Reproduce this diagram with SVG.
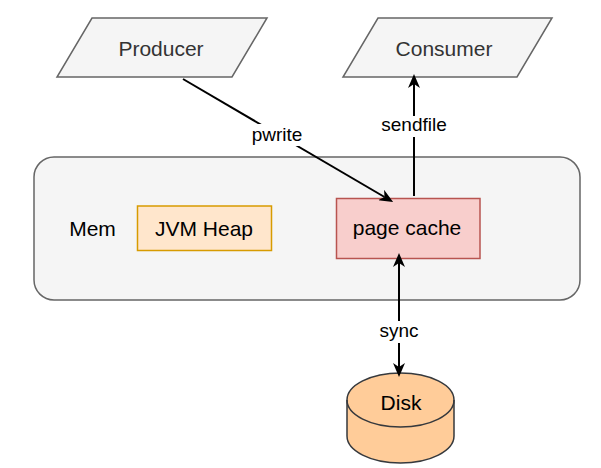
<svg xmlns="http://www.w3.org/2000/svg" width="601" height="468" viewBox="0 0 601 468">
<style>
text{font-family:"Liberation Sans",Arial,sans-serif;text-anchor:middle}
.n{font-size:21px}
.l{font-size:19px;fill:#000}
.io{fill:#f5f5f5;stroke:#666666;stroke-width:1.5}
.edge{fill:none;stroke:#000;stroke-width:2}
.bg{fill:#fff}
</style>
<defs>
<marker id="ah" viewBox="0 0 14 12" refX="4" refY="6" markerWidth="14" markerHeight="12" markerUnits="userSpaceOnUse" orient="auto-start-reverse">
<path d="M0,0 L14,6 L0,12 L4,6 Z" fill="#000"/>
</marker>
</defs>
<g id="mem">
<rect x="34" y="157" width="546" height="143" rx="20" ry="20" fill="#f5f5f5" stroke="#666666" stroke-width="1.5"/>
<text class="n" x="92.5" y="236" fill="#000">Mem</text>
</g>
<g id="producer">
<polygon class="io" points="92,18 267,18 232,77 57,77"/>
<text class="n" x="161" y="56" fill="#333333">Producer</text>
</g>
<g id="consumer">
<polygon class="io" points="378,18 552,18 517,77 343,77"/>
<text class="n" x="444" y="56" fill="#333333">Consumer</text>
</g>
<g id="jvmheap">
<rect x="137.5" y="206" width="134" height="44.5" fill="#ffe6cc" stroke="#d79b00" stroke-width="1.5"/>
<text class="n" x="204" y="236" fill="#000">JVM Heap</text>
</g>
<g id="pagecache">
<rect x="336.5" y="198.5" width="143.5" height="60" fill="#f8cecc" stroke="#b85450" stroke-width="1.5"/>
<text class="n" x="407" y="235" fill="#000">page cache</text>
</g>
<g id="disk">
<path d="M347,400 A53.5,27 0 0 1 454,400 L454,436 A53.5,27 0 0 1 347,436 Z" fill="#ffcc99" stroke="#36393d" stroke-width="1.5"/>
<path d="M347,400 A53.5,27 0 0 0 454,400" fill="none" stroke="#36393d" stroke-width="1.5"/>
<text class="n" x="401" y="410" fill="#000">Disk</text>
</g>
<g id="connectors">
<line class="edge" x1="183" y1="79" x2="384.5" y2="197" marker-end="url(#ah)"/>
<rect class="bg" x="250" y="124" width="54" height="22"/>
<text class="l" x="277" y="141">pwrite</text>
<line class="edge" x1="414" y1="196" x2="414" y2="84" marker-end="url(#ah)"/>
<rect class="bg" x="380" y="116" width="68" height="21"/>
<text class="l" x="414" y="131">sendfile</text>
<line class="edge" x1="399" y1="263" x2="399" y2="367" marker-start="url(#ah)" marker-end="url(#ah)"/>
<rect class="bg" x="381" y="321" width="37" height="22"/>
<text class="l" x="399" y="337">sync</text>
</g>
</svg>
